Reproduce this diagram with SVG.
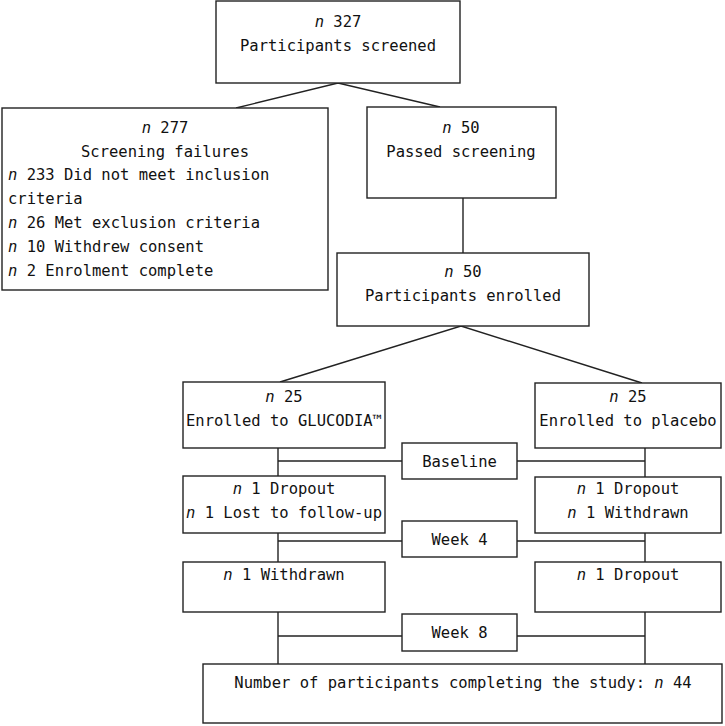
<svg xmlns="http://www.w3.org/2000/svg" width="725" height="726" viewBox="0 0 725 726">
<style>
.box{fill:#fff;stroke:#222;stroke-width:1.4}
.ln{fill:none;stroke:#222;stroke-width:1.4}
text{font-family:"DejaVu Sans Mono","Liberation Mono",monospace;font-size:15.5px;fill:#111}
.c{text-anchor:middle}
.i{font-style:italic}
</style>
<rect width="725" height="726" fill="#fff"/>
<g id="connectors">
<polyline class="ln" points="236,108 338,83 440,107"/>
<line class="ln" x1="463" y1="198" x2="463" y2="253"/>
<polyline class="ln" points="280,382 461,326 642,383"/>
<line class="ln" x1="278" y1="448" x2="278" y2="476"/>
<line class="ln" x1="278" y1="533" x2="278" y2="562"/>
<line class="ln" x1="278" y1="612" x2="278" y2="664"/>
<line class="ln" x1="645" y1="448" x2="645" y2="477"/>
<line class="ln" x1="645" y1="533" x2="645" y2="562"/>
<line class="ln" x1="645" y1="612" x2="645" y2="664"/>
<line class="ln" x1="278" y1="461" x2="402" y2="461"/>
<line class="ln" x1="517" y1="461" x2="645" y2="461"/>
<line class="ln" x1="278" y1="541" x2="402" y2="541"/>
<line class="ln" x1="517" y1="541" x2="645" y2="541"/>
<line class="ln" x1="278" y1="636" x2="402" y2="636"/>
<line class="ln" x1="517" y1="636" x2="645" y2="636"/>
</g>
<g id="screened">
<rect class="box" x="216" y="1" width="244" height="82"/>
<text class="c" x="338" y="27"><tspan class="i">n</tspan> 327</text>
<text class="c" x="338" y="51">Participants screened</text>
</g>
<g id="failures">
<rect class="box" x="2" y="108" width="326" height="182"/>
<text class="c" x="165" y="133"><tspan class="i">n</tspan> 277</text>
<text class="c" x="165" y="157">Screening failures</text>
<text x="8" y="180"><tspan class="i">n</tspan> 233 Did not meet inclusion</text>
<text x="8" y="204">criteria</text>
<text x="8" y="228"><tspan class="i">n</tspan> 26 Met exclusion criteria</text>
<text x="8" y="252"><tspan class="i">n</tspan> 10 Withdrew consent</text>
<text x="8" y="276"><tspan class="i">n</tspan> 2 Enrolment complete</text>
</g>
<g id="passed">
<rect class="box" x="367" y="107" width="189" height="91"/>
<text class="c" x="461" y="133"><tspan class="i">n</tspan> 50</text>
<text class="c" x="461" y="157">Passed screening</text>
</g>
<g id="enrolled">
<rect class="box" x="337" y="253" width="252" height="73"/>
<text class="c" x="463" y="277"><tspan class="i">n</tspan> 50</text>
<text class="c" x="463" y="301">Participants enrolled</text>
</g>
<g id="glucodia">
<rect class="box" x="183" y="382" width="202" height="66"/>
<text class="c" x="284" y="402"><tspan class="i">n</tspan> 25</text>
<text class="c" x="284" y="426">Enrolled to GLUCODIA™</text>
</g>
<g id="placebo">
<rect class="box" x="535" y="383" width="186" height="65"/>
<text class="c" x="628" y="402"><tspan class="i">n</tspan> 25</text>
<text class="c" x="628" y="426">Enrolled to placebo</text>
</g>
<g id="baseline">
<rect class="box" x="402" y="443" width="115" height="36"/>
<text class="c" x="459.5" y="467">Baseline</text>
</g>
<g id="drop-glucodia">
<rect class="box" x="183" y="476" width="202" height="57"/>
<text class="c" x="284" y="494"><tspan class="i">n</tspan> 1 Dropout</text>
<text class="c" x="284" y="518"><tspan class="i">n</tspan> 1 Lost to follow-up</text>
</g>
<g id="drop-placebo">
<rect class="box" x="535" y="477" width="186" height="56"/>
<text class="c" x="628" y="494"><tspan class="i">n</tspan> 1 Dropout</text>
<text class="c" x="628" y="518"><tspan class="i">n</tspan> 1 Withdrawn</text>
</g>
<g id="week4">
<rect class="box" x="402" y="521" width="115" height="36"/>
<text class="c" x="459.5" y="545">Week 4</text>
</g>
<g id="withdrawn-glucodia">
<rect class="box" x="183" y="562" width="202" height="50"/>
<text class="c" x="284" y="580"><tspan class="i">n</tspan> 1 Withdrawn</text>
</g>
<g id="dropout-placebo-2">
<rect class="box" x="535" y="562" width="186" height="50"/>
<text class="c" x="628" y="580"><tspan class="i">n</tspan> 1 Dropout</text>
</g>
<g id="week8">
<rect class="box" x="402" y="614" width="115" height="37"/>
<text class="c" x="459.5" y="638">Week 8</text>
</g>
<g id="completed">
<rect class="box" x="203" y="664" width="519" height="59"/>
<text class="c" x="463" y="688">Number of participants completing the study: <tspan class="i">n</tspan> 44</text>
</g>
</svg>
